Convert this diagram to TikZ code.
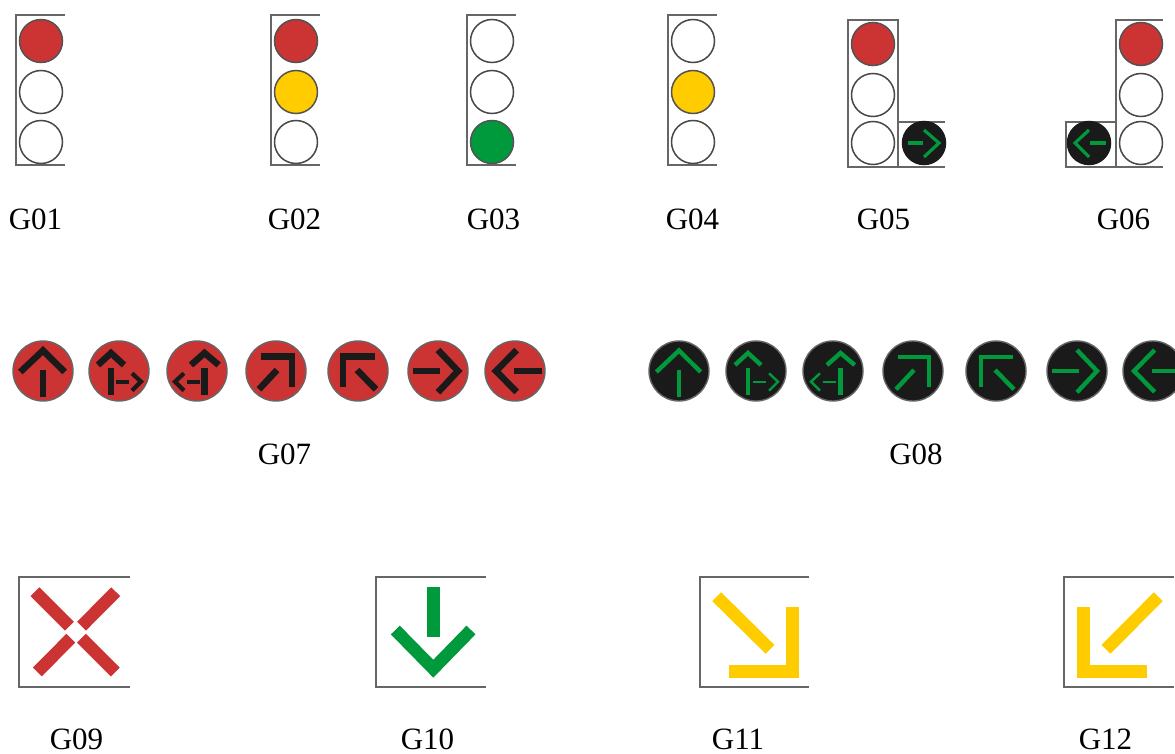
\documentclass[tikz,border=0pt]{standalone}
\usepackage{fontspec}
\setmainfont{Liberation Serif}
\definecolor{sigred}{HTML}{CC3333}
\definecolor{sigyellow}{HTML}{FFCC00}
\definecolor{siggreen}{HTML}{009A3C}
\definecolor{sigdark}{HTML}{1A1A1A}
\definecolor{frameg}{HTML}{666666}
\tikzset{
  x=1pt,y=-1pt,
  frameline/.style={draw=frameg,line width=2.2pt,line join=miter},
  lamp/.style={circle,draw=#1,line width=1.5pt,minimum size=43pt,inner sep=0pt},
  lampoff/.style={lamp=sigdark!80,fill=white},
  lampred/.style={lamp=sigdark!75,fill=sigred},
  lampyellow/.style={lamp=sigdark!75,fill=sigyellow},
  lampgreen/.style={lamp=sigdark!75,fill=siggreen},
  lampdark/.style={lamp=sigdark,fill=sigdark},
  disc/.style={circle,draw=frameg,line width=1.4pt,minimum size=60pt,inner sep=0pt},
  label/.style={font=\fontsize{31}{31}\selectfont,anchor=base,inner sep=0pt},
  barline/.style={line cap=butt,line join=miter},
  redrow/.style={bigw/.style={barline,draw=sigdark,line width=6.5pt},smallw/.style={barline,draw=sigdark,line width=4.2pt}},
  greenrow/.style={bigw/.style={barline,draw=siggreen,line width=4.4pt},smallw/.style={barline,draw=siggreen,line width=2.4pt}},
  thinb/.style={barline,draw=siggreen,line width=3.2pt},
  pane/.style={barline,line width=12.5pt},
  aUp/.pic={\draw[bigw] (-22.7,1)--(0,-20.5)--(21.7,1); \draw[bigw] (0,-1)--(0,26);},
  aUpR/.pic={\draw[bigw] (-21,-6)--(-8,-18)--(5,-6); \draw[bigw] (-8,-3)--(-8,24);
    \draw[smallw] (-3,10.7)--(10,10.7); \draw[smallw] (13,2.3)--(22,10.7)--(13,19.7);},
  aUpL/.pic={\draw[bigw] (-6,-6)--(7.5,-18)--(21.7,-6); \draw[bigw] (7.5,-3)--(7.5,24);
    \draw[smallw] (3,10.7)--(-10,10.7); \draw[smallw] (-13,2.3)--(-22,10.7)--(-13,19.7);},
  aNE/.pic={\draw[bigw] (-15,-14.3)--(16,-14.3)--(16,16.3); \draw[bigw] (1,-1)--(-17,18.3);},
  aNW/.pic={\draw[bigw] (16.7,-14.3)--(-15,-14.3)--(-15,16.3); \draw[bigw] (-1,-1)--(18,18.3);},
  aR/.pic={\draw[bigw] (-25,0)--(2,0); \draw[bigw] (0,-21)--(20,0)--(0,21.3);},
  aL/.pic={\draw[bigw] (27,0)--(-1,0); \draw[bigw] (1.7,-21)--(-19,0)--(1.7,21);},
}
\begin{document}
\begin{tikzpicture}
\useasboundingbox (0,0) rectangle (1175,754);
% G01-G04 housings
\draw[frameline] (65,15)--(16,15)--(16,165)--(65,165);
\draw[frameline] (320,15)--(271,15)--(271,165)--(320,165);
\draw[frameline] (516,15)--(467,15)--(467,165)--(516,165);
\draw[frameline] (717,15)--(668,15)--(668,165)--(717,165);
\node[lampred] (a1) at (41,41) {};
\node[lampoff] (a2) at (41,92) {};
\node[lampoff] (a3) at (41,142) {};
\node[lampred] (b1) at (296,41) {};
\node[lampyellow] (b2) at (296,92) {};
\node[lampoff] (b3) at (296,142) {};
\node[lampoff] (c1) at (492,41) {};
\node[lampoff] (c2) at (492,92) {};
\node[lampgreen] (c3) at (492,142) {};
\node[lampoff] (d1) at (693,41) {};
\node[lampyellow] (d2) at (693,92) {};
\node[lampoff] (d3) at (693,142) {};
% G05
\draw[frameline] (848,20) rectangle (898,167);
\draw[frameline] (945,122)--(898,122)--(898,167)--(945,167);
\node[lampred] (e1) at (873,44) {};
\node[lampoff] (e2) at (873,95) {};
\node[lampoff] (e3) at (873,143) {};
\node[lampdark] (e4) at (924,143) {};
\draw[thinb] (908,143)--(923,143);
\draw[thinb] (924,130)--(939,143)--(924,157);
% G06
\draw[frameline] (1163,20)--(1116,20)--(1116,167)--(1163,167);
\draw[frameline] (1116,122)--(1066,122)--(1066,167)--(1116,167);
\node[lampred] (f1) at (1141,44) {};
\node[lampoff] (f2) at (1141,95) {};
\node[lampoff] (f3) at (1141,143) {};
\node[lampdark] (f4) at (1089,143) {};
\draw[thinb] (1106,143)--(1090,143);
\draw[thinb] (1089,130)--(1075,143)--(1089,157);
% labels
\node[label] (l1) at (35.5,229.5) {G01};
\node[label] (l2) at (294.5,229.5) {G02};
\node[label] (l3) at (493.5,229.5) {G03};
\node[label] (l4) at (692.5,229.5) {G04};
\node[label] (l5) at (883.5,229.5) {G05};
\node[label] (l6) at (1123.5,229.5) {G06};
\node[label] (l7) at (284.5,464.5) {G07};
\node[label] (l8) at (916,464.5) {G08};
\node[label] (l9) at (76.5,749) {G09};
\node[label] (l10) at (427.5,749) {G10};
\node[label] (l11) at (738,749) {G11};
\node[label] (l12) at (1105.5,749) {G12};
% G07
\begin{scope}[redrow]
\node[disc,fill=sigred] (r1) at (43,371) {};
\node[disc,fill=sigred] (r2) at (119,371) {};
\node[disc,fill=sigred] (r3) at (197,371) {};
\node[disc,fill=sigred] (r4) at (276,371) {};
\node[disc,fill=sigred] (r5) at (358,371) {};
\node[disc,fill=sigred] (r6) at (438,371) {};
\node[disc,fill=sigred] (r7) at (515,371) {};
\pic at (43,371) {aUp};
\pic at (119,371) {aUpR};
\pic at (197,371) {aUpL};
\pic at (276,371) {aNE};
\pic at (358,371) {aNW};
\pic at (438,371) {aR};
\pic at (515,371) {aL};
\end{scope}
% G08
\begin{scope}[greenrow]
\node[disc,fill=sigdark] (g1) at (679,371) {};
\node[disc,fill=sigdark] (g2) at (756,371) {};
\node[disc,fill=sigdark] (g3) at (833,371) {};
\node[disc,fill=sigdark] (g4) at (913,371) {};
\node[disc,fill=sigdark] (g5) at (996,371) {};
\node[disc,fill=sigdark] (g6) at (1077,371) {};
\node[disc,fill=sigdark] (g7) at (1153,371) {};
\pic at (679,371) {aUp};
\pic at (756,371) {aUpR};
\pic at (833,371) {aUpL};
\pic at (913,371) {aNE};
\pic at (996,371) {aNW};
\pic at (1077,371) {aR};
\pic at (1153,371) {aL};
\end{scope}
% G09
\draw[frameline] (130,577)--(19,577)--(19,687)--(130,687);
\draw[pane,draw=sigred] (35,591.7)--(69.5,626.2);
\draw[pane,draw=sigred] (115.7,591.7)--(81.5,626.2);
\draw[pane,draw=sigred] (37.3,672)--(70.8,638.2);
\draw[pane,draw=sigred] (115.3,672)--(81.5,638.2);
% G10
\draw[frameline] (486,577)--(376,577)--(376,687)--(486,687);
\draw[pane,draw=siggreen] (433.3,586.7)--(433.3,637.3);
\draw[pane,draw=siggreen] (395.3,630)--(433.3,668.7)--(471,630);
% G11
\draw[frameline] (809,577)--(700,577)--(700,687)--(809,687);
\draw[pane,draw=sigyellow] (716.7,596.7)--(770,649.3);
\draw[pane,draw=sigyellow,line width=13pt] (729,671)--(792.3,671)--(792.3,607.3);
% G12
\draw[frameline] (1174,577)--(1064,577)--(1064,687)--(1174,687);
\draw[pane,draw=sigyellow] (1158.3,596.7)--(1106,649.3);
\draw[pane,draw=sigyellow,line width=13pt] (1147.3,671)--(1083.3,671)--(1083.3,607.3);
\end{tikzpicture}
\end{document}
